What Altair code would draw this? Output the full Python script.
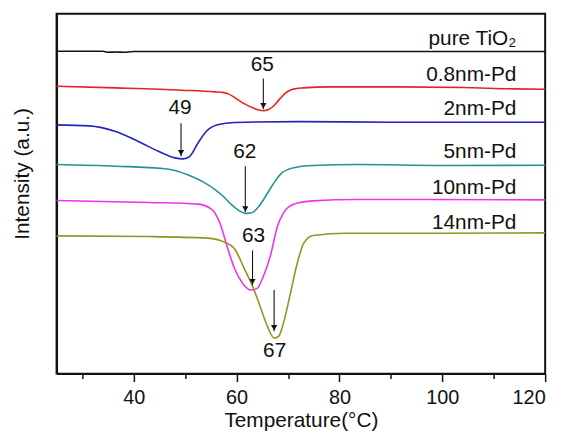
import altair as alt
import pandas as pd

FONT = "Liberation Sans"

series_names = ["pure TiO2", "0.8nm-Pd", "2nm-Pd", "5nm-Pd", "10nm-Pd", "14nm-Pd"]
series_colors = ["#111111", "#e52222", "#2323c0", "#229494", "#ee33ee", "#949422"]

# Temperatures (°C) and intensities (a.u.)
temp_tio2 = [25, 34, 35, 36.5, 38, 40, 50, 60, 80, 100, 120]
int_tio2 = [325.3, 325.3, 324.2, 324.5, 324.2, 325, 325, 325, 325, 325, 325]

temp_p08 = [25, 36.5, 49.3, 55.8, 57.5, 58.5, 59.5, 60.8, 62.1, 63.4, 64.3, 65.2,
            66.2, 67.2, 68.5, 69.5, 70.4, 71.5, 73, 78, 91, 104, 114, 120]
int_p08 = [290, 288.3, 286, 284.3, 283.5, 282, 279, 274.5, 270.7, 267.7, 266, 265.3,
           266.5, 270, 277.7, 283, 286, 287.5, 288.3, 289.3, 289.3, 288.7, 287.3, 287]

temp_p2 = [25, 31.3, 36.5, 40.9, 44.8, 48, 49.6, 50.9, 52.5, 54.1, 56.3, 59.6, 72, 90, 120]
int_p2 = [251, 250, 244.3, 234.3, 224.3, 217.7, 216.7, 219.3, 232.7, 244.3, 251,
          253.3, 254.3, 253.7, 253.7]

temp_p5 = [25, 36.5, 46.1, 50.6, 53.5, 56, 57.6, 59, 60.2, 61, 61.8, 62.6, 63.4,
           64.3, 65.3, 66.3, 67.3, 68.8, 70, 71.1, 74.9, 83.3, 100, 120]
int_p5 = [211, 209.3, 206.7, 200.5, 193.5, 185, 178, 170.5, 165.5, 163, 161.5, 162,
          163.5, 168.5, 176, 184.5, 192.7, 202.5, 206, 207.7, 210, 211, 210, 210.3]

temp_p10 = [25, 42.9, 52.5, 55.1, 56.7, 58.3, 59.6, 61.2, 62.8, 64.0, 65.3, 66.6,
            67.9, 69.2, 71.1, 74.9, 83.3, 120]
int_p10 = [174.7, 172.7, 171, 166, 152.7, 126, 106, 91, 84.3, 86, 99.3, 119.3,
           148, 162.7, 171, 174.3, 175.7, 175.3]

temp_p14 = [25, 42.9, 54.4, 57.6, 59.6, 61.5, 63.4, 64.7, 66.0, 67.3, 68.2, 69.2,
            70.4, 71.7, 73.0, 74.9, 81.3, 100, 120]
int_p14 = [139, 138.3, 136.7, 132.7, 126, 106, 84.3, 66, 47.7, 36, 37.7, 52.7,
           79.3, 109.3, 131, 139.3, 141.7, 141.7, 142]

# Peak annotations
peak_text = ["65", "49", "62", "63", "67"]
peak_label_t = [65.0, 49.0, 61.6, 63.3, 67.4]
peak_label_i = [311, 267.7, 223.3, 139.3, 22.7]
arrow_t = [65.2, 49.2, 61.7, 63.1, 67.3]
arrow_top = [297.7, 252.7, 209.3, 124.3, 84.3]
arrow_tip = [266.7, 219.3, 162.7, 89.3, 42.7]

# Series labels
label_t = [114.4] * 6
label_i = [331.7, 295, 261, 217.7, 181, 146]
label_text = ["pure TiO\u2082", "0.8nm-Pd", "2nm-Pd", "5nm-Pd", "10nm-Pd", "14nm-Pd"]

major_ticks = [40, 60, 80, 100, 120]
minor_ticks = [30, 50, 70, 90, 110]

rows = []
for name, ts, vs in zip(series_names,
                        [temp_tio2, temp_p08, temp_p2, temp_p5, temp_p10, temp_p14],
                        [int_tio2, int_p08, int_p2, int_p5, int_p10, int_p14]):
    for k, (t, v) in enumerate(zip(ts, vs)):
        rows.append({"series": name, "temp": t, "intensity": v, "idx": k})
df = pd.DataFrame(rows)

peaks = pd.DataFrame({"text": peak_text, "lt": peak_label_t, "li": peak_label_i,
                      "at": arrow_t, "top": arrow_top, "tip": arrow_tip})
labels = pd.DataFrame({"t": label_t, "i": label_i, "text": label_text})

xscale = alt.Scale(domain=[25, 120], nice=False, zero=False)
yscale = alt.Scale(domain=[0, 363], nice=False, zero=False)

x_axis = alt.Axis(values=major_ticks, tickSize=8, tickWidth=1.5, tickColor="#111",
                  labelFont=FONT, labelFontSize=20, labelColor="#111",
                  labelBaseline="alphabetic", labelPadding=22, grid=False,
                  domainColor="#111", domainWidth=2,
                  title="Temperature(°C)", titleFont=FONT, titleFontSize=21,
                  titleFontWeight="normal", titleColor="#111",
                  titleBaseline="alphabetic", titleY=53)
x_minor = alt.Axis(values=minor_ticks, tickSize=5, tickWidth=1.5, tickColor="#111",
                   labels=False, domain=False, grid=False, title=None, orient="bottom")
y_axis = alt.Axis(ticks=False, labels=False, grid=False, domainColor="#111", domainWidth=2,
                  title="Intensity (a.u.)", titleFont=FONT, titleFontSize=21,
                  titleFontWeight="normal", titleColor="#111",
                  titleX=-34, titleY=161, titleBaseline="middle", titleAngle=270)

lines = alt.Chart(df).mark_line(strokeWidth=1.6, interpolate="monotone").encode(
    x=alt.X("temp:Q", scale=xscale, axis=x_axis),
    y=alt.Y("intensity:Q", scale=yscale, axis=y_axis),
    color=alt.Color("series:N", scale=alt.Scale(domain=series_names, range=series_colors),
                    legend=None),
    order="idx:Q",
)

arrows = alt.Chart(peaks).mark_rule(strokeWidth=1.1, color="#111").encode(
    x=alt.X("at:Q", scale=xscale, axis=x_minor),
    y=alt.Y("top:Q", scale=yscale, axis=None),
    y2="tip:Q",
)

heads = alt.Chart(peaks).mark_point(shape="triangle-down", filled=True, size=40,
                                    color="#111", opacity=1, yOffset=-3.5).encode(
    x=alt.X("at:Q", scale=xscale, axis=None),
    y=alt.Y("tip:Q", scale=yscale, axis=None),
)

peak_labels = alt.Chart(peaks).mark_text(font=FONT, fontSize=21, color="#111",
                                         align="center", baseline="middle").encode(
    x=alt.X("lt:Q", scale=xscale, axis=None),
    y=alt.Y("li:Q", scale=yscale, axis=None),
    text="text:N",
)

series_labels = alt.Chart(labels).mark_text(font=FONT, fontSize=21, color="#111",
                                            align="right", baseline="alphabetic").encode(
    x=alt.X("t:Q", scale=xscale, axis=None),
    y=alt.Y("i:Q", scale=yscale, axis=None),
    text="text:N",
)

chart = alt.layer(lines, arrows, heads, peak_labels, series_labels).resolve_axis(
    x="independent", y="independent"
).properties(
    width=493, height=363,
    autosize=alt.AutoSizeParams(type="none"),
    padding={"left": 49, "top": 4, "right": 18, "bottom": 57},
).configure_view(stroke="#111", strokeWidth=2)

chart.save("out.html", embed_options={"renderer": "svg", "actions": False})
